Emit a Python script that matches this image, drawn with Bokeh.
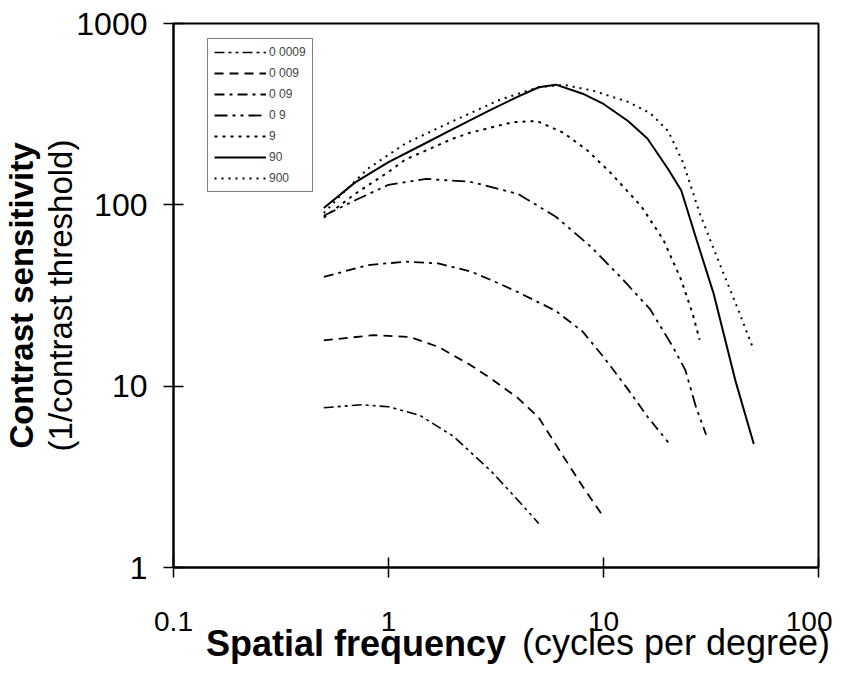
import math
from bokeh.plotting import figure
from bokeh.models import (Range1d, FixedTicker, CustomJSTickFormatter,
                          Legend, LegendItem, Title, LogAxis)
from bokeh.embed import file_html
from bokeh.resources import INLINE

# ---- data ----
x_00009 = [0.5, 0.75, 1.0, 1.4, 2.0, 3.0, 4.0, 5.0]
y_00009 = [7.6, 7.9, 7.7, 6.9, 5.3, 3.4, 2.35, 1.75]

x_0009 = [0.5, 0.85, 1.25, 1.7, 2.4, 3.0, 4.0, 5.0, 6.5, 8.0, 10.0]
y_0009 = [17.9, 19.1, 18.7, 16.5, 13.1, 11.0, 8.6, 6.7, 4.1, 2.8, 1.9]

x_009 = [0.5, 0.8, 1.2, 1.7, 2.4, 3.0, 4.0, 6.0, 8.0, 10.0, 13.0, 16.0, 20.0]
y_009 = [40, 46.5, 48.6, 47.5, 43, 38.5, 33, 26, 20, 14.5, 9.6, 6.8, 4.9]

x_09 = [0.5, 0.7, 1.0, 1.5, 2.4, 4.0, 6.0, 8.7, 12.0, 16.5, 21.0, 24.0, 27.0, 30.0]
y_09 = [87, 106, 129, 139, 134, 115, 86, 59, 40, 26.5, 16.5, 12.3, 7.6, 5.4]

x_9 = [0.5, 0.7, 1.0, 1.2, 2.0, 2.4, 3.8, 4.9, 6.5, 8.4, 10.8, 15.0, 19.0, 23.0, 26.0, 28.0]
y_9 = [85, 115, 152, 178, 232, 250, 286, 290, 250, 200, 150, 98, 64, 38.5, 25, 18]

x_90 = [0.5, 0.7, 1.0, 1.5, 2.0, 3.0, 4.0, 5.0, 6.0, 8.0, 10.0, 13.0, 16.0, 20.0, 23.0, 27.0, 32.5, 41.0, 50.0]
y_90 = [96, 133, 172, 220, 262, 335, 395, 445, 460, 410, 360, 290, 232, 157, 120, 65, 32.5, 10.8, 4.8]

x_900 = [0.5, 0.6, 0.8, 1.2, 2.0, 3.3, 5.0, 6.5, 9.0, 13.0, 16.5, 20.0, 23.5, 28.0, 35.0, 42.0, 50.0]
y_900 = [90, 113, 158, 218, 290, 380, 445, 460, 425, 370, 320, 255, 170, 90, 46, 27, 15.8]

series_labels = ["0 0009", "0 009", "0 09", "0 9", "9", "90", "900"]
x_ticks = [0.1, 1, 10, 100]
y_ticks = [1, 10, 100, 1000]

FONT = "Liberation Sans"
NB = "\u00a0"

p = figure(width=832, height=671, x_axis_type="log", y_axis_type="log",
           x_range=Range1d(0.1, 100), y_range=Range1d(1, 1000),
           output_backend="svg", toolbar_location=None,
           min_border_left=171, min_border_right=14,
           min_border_top=23, min_border_bottom=104)

p.xgrid.visible = False
p.ygrid.visible = False
p.outline_line_color = "black"
p.outline_line_width = 2
p.background_fill_color = "white"
p.border_fill_color = "white"

fmt = CustomJSTickFormatter(code="return tick.toString();")
for ax, ticks, fs, so in ((p.xaxis[0], x_ticks, "28px", 34), (p.yaxis[0], y_ticks, "32px", 16)):
    ax.ticker = FixedTicker(ticks=ticks, minor_ticks=[])
    ax.formatter = fmt
    ax.major_tick_in = 10
    ax.major_tick_out = 10
    ax.major_tick_line_width = 1.5
    ax.major_tick_line_color = "black"
    ax.minor_tick_line_color = None
    ax.axis_line_width = 2
    ax.axis_line_color = "black"
    ax.major_label_text_font = FONT
    ax.major_label_text_font_size = fs
    ax.major_label_text_color = "black"
    ax.major_label_standoff = so

styles = [
    (x_00009, y_00009, "10 4 3 4 3 4", 1.6),
    (x_0009, y_0009, "9 6", 1.8),
    (x_009, y_009, "10 5 3 5", 1.8),
    (x_09, y_09, "13 5 3 5 3 5", 1.8),
    (x_9, y_9, "3 5", 2),
    (x_90, y_90, "solid", 2),
    (x_900, y_900, "2 5", 2),
]
items = []
for (xs, ys, dash, lw), lab in zip(styles, series_labels):
    r = p.line(xs, ys, line_color="black", line_width=lw, line_dash=dash)
    items.append(LegendItem(label=lab, renderers=[r]))

legend = Legend(items=items, location=(34, 375), margin=0, padding=6,
                spacing=7, glyph_width=52, glyph_height=14, label_height=14,
                label_standoff=3, label_text_font=FONT, label_text_font_size="12px",
                border_line_color="black", border_line_width=1,
                background_fill_color="white", background_fill_alpha=1)
p.add_layout(legend)

# ---- y title: regular line as axis label, bold line as outer title ----
YS = "33px"
yax = p.yaxis[0]
yax.axis_label = "(1/contrast threshold)"
yax.axis_label_text_font = FONT
yax.axis_label_text_font_size = YS
yax.axis_label_text_font_style = "normal"
yax.axis_label_text_color = "black"
yax.axis_label_standoff = -6
p.add_layout(Title(text="Contrast sensitivity", align="center", standoff=0,
                   text_font=FONT, text_font_size=YS, text_font_style="bold",
                   text_color="black"), "left")

# ---- x title: bold part on the main axis, regular part on a tick-less
#      second axis pulled up into the same row ----
XS = "36px"
xax = p.xaxis[0]
xax.axis_label = "Spatial frequency" + NB * 28
xax.axis_label_text_font = FONT
xax.axis_label_text_font_size = XS
xax.axis_label_text_font_style = "bold"
xax.axis_label_text_color = "black"
xax.axis_label_standoff = -11

xax2 = LogAxis(ticker=FixedTicker(ticks=[]), axis_line_color=None,
               major_tick_in=0, major_tick_out=0, minor_tick_in=0, minor_tick_out=0,
               major_tick_line_color=None, minor_tick_line_color=None,
               major_label_text_font_size="0px",
               axis_label=NB * 36 + "(cycles per degree)",
               axis_label_text_font=FONT, axis_label_text_font_size=XS,
               axis_label_text_font_style="normal", axis_label_text_color="black",
               axis_label_standoff=-45)
p.add_layout(xax2, "below")

open("out.html", "w").write(file_html(p, INLINE))
